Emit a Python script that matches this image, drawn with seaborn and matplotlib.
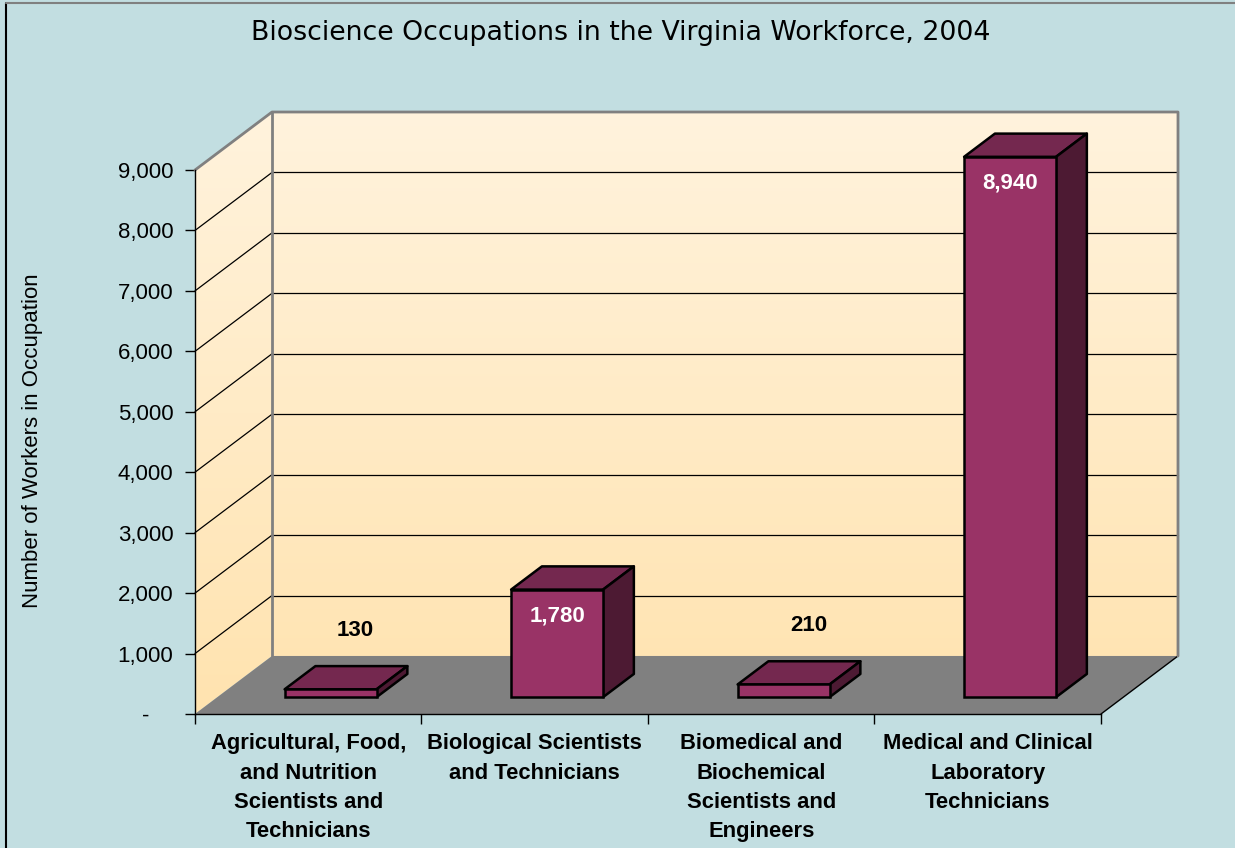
import numpy as np
import pandas as pd
import matplotlib
matplotlib.use("Agg")
import matplotlib.pyplot as plt
import seaborn as sns
from matplotlib.patches import Polygon
from matplotlib.lines import Line2D
from matplotlib.colors import LinearSegmentedColormap

# ---------------- data ----------------
categories = [
    "Agricultural, Food,\nand Nutrition\nScientists and\nTechnicians",
    "Biological Scientists\nand Technicians",
    "Biomedical and\nBiochemical\nScientists and\nEngineers",
    "Medical and Clinical\nLaboratory\nTechnicians",
]
workers = [130, 1780, 210, 8940]
value_labels = ["130", "1,780", "210", "8,940"]
y_ticks = [0, 1000, 2000, 3000, 4000, 5000, 6000, 7000, 8000, 9000]
y_tick_labels = ["-    ", "1,000", "2,000", "3,000", "4,000", "5,000",
                 "6,000", "7,000", "8,000", "9,000"]
title = "Bioscience Occupations in the Virginia Workforce, 2004"
y_label = "Number of Workers in Occupation"

# ---------------- style ----------------
BG = "#C2DEE1"
FRONT = "#993366"
TOP = "#74284F"
SIDE = "#4D1A33"
FLOOR = "#808080"
WALL_TOP = "#FFF3DD"
WALL_BOT = "#FFE3AF"

sns.set_theme(style="white")
plt.rcParams["font.family"] = ["Liberation Sans", "DejaVu Sans"]
plt.rcParams["text.color"] = "black"
plt.rcParams["xtick.color"] = "black"
plt.rcParams["ytick.color"] = "black"

W, H = 1235, 848
fig = plt.figure(figsize=(W / 100, H / 100), dpi=100, facecolor=BG)
L, R, B, T = 195, 1178, 714, 112
ax = fig.add_axes([L / W, 1 - B / H, (R - L) / W, (B - T) / H])
ax.set_facecolor("none")

DX, DY = 0.34, 960          # depth vector (front -> back) in data units
D0, D1 = 0.29, 0.69         # bar depth span as fraction of the depth
YMAX = 9000
X0, X1 = -0.5, 3.5

df = pd.DataFrame({"cat": categories, "workers": workers})
sns.barplot(data=df, x="cat", y="workers", color=FRONT, saturation=1,
            width=0.406, edgecolor="black", linewidth=1.8, ax=ax, zorder=6)

bars = list(ax.patches)
ax.set_xlim(X0, X1 + DX)
ax.set_ylim(0, YMAX + DY)

# walls gradient (left + back) clipped to wall shape
cmap = LinearSegmentedColormap.from_list("wall", [WALL_BOT, WALL_TOP])
grad = np.linspace(0, 1, 256).reshape(-1, 1)
im = ax.imshow(grad, extent=(X0, X1 + DX, 0, YMAX + DY), origin="lower",
               aspect="auto", cmap=cmap, zorder=0, interpolation="bicubic")
wall = Polygon([(X0, 0), (X0, YMAX), (X0 + DX, YMAX + DY), (X1 + DX, YMAX + DY),
                (X1 + DX, DY), (X0 + DX, DY)], closed=True, facecolor="none",
               edgecolor="none", transform=ax.transData)
ax.add_patch(wall)
im.set_clip_path(wall)
ax.set_xlim(X0, X1 + DX)
ax.set_ylim(0, YMAX + DY)

# floor
ax.add_patch(Polygon([(X0, 0), (X1, 0), (X1 + DX, DY), (X0 + DX, DY)],
                     closed=True, facecolor=FLOOR, edgecolor="none", zorder=1,
                     clip_on=False))
ax.plot([X1, X1 + DX], [0, DY], color="black", lw=1, zorder=2, clip_on=False)

# gridlines
for v in y_ticks[1:-1]:
    ax.plot([X0 + DX, X1 + DX], [v + DY, v + DY], color="black", lw=0.9,
            zorder=2, clip_on=False)
    ax.plot([X0, X0 + DX], [v, v + DY], color="black", lw=0.9, zorder=2,
            clip_on=False)
# wall borders (grey)
ax.plot([X0, X0 + DX, X1 + DX, X1 + DX], [YMAX, YMAX + DY, YMAX + DY, DY],
        color="#808080", lw=2, zorder=3, clip_on=False)
ax.plot([X0 + DX, X0 + DX], [DY, YMAX + DY], color="#808080", lw=2, zorder=3,
        clip_on=False)

# 3-D bars
for i, p in enumerate(bars):
    x, w, h = p.get_x(), p.get_width(), p.get_height()
    x = x + D0 * DX
    y = D0 * DY
    p.set_x(x)
    p.set_y(y)
    bdx, bdy = (D1 - D0) * DX, (D1 - D0) * DY
    top = Polygon([(x, y + h), (x + w, y + h), (x + w + bdx, y + h + bdy),
                   (x + bdx, y + h + bdy)], closed=True, facecolor=TOP,
                  edgecolor="black", lw=1.8, zorder=5, joinstyle="round")
    side = Polygon([(x + w, y), (x + w, y + h), (x + w + bdx, y + h + bdy),
                    (x + w + bdx, y + bdy)], closed=True, facecolor=SIDE,
                   edgecolor="black", lw=1.8, zorder=5, joinstyle="round")
    ax.add_patch(top)
    ax.add_patch(side)
    xc = x + w / 2
    if workers[i] < 1000:
        ax.text(xc + 0.11, y + h + 980, value_labels[i], ha="center",
                va="center", fontsize=16, fontweight="bold", color="black",
                zorder=7)
    else:
        ax.text(xc, y + h - 430, value_labels[i], ha="center", va="center",
                fontsize=16, fontweight="bold", color="white", zorder=7)

# spines & ticks
for s in ["top", "right"]:
    ax.spines[s].set_visible(False)
ax.spines["left"].set_bounds(0, YMAX)
ax.spines["bottom"].set_bounds(X0, X1)
for s in ["left", "bottom"]:
    ax.spines[s].set_color("black")
    ax.spines[s].set_linewidth(1.0)
    ax.spines[s].set_zorder(4)

ax.set_yticks(y_ticks)
ax.set_yticklabels(y_tick_labels, fontsize=16, color="black")
ax.tick_params(axis="y", which="major", length=7.5, width=1, color="black",
               direction="out", pad=8, left=True, labelcolor="black")
ax.yaxis.get_major_ticks()[-1].tick1line.set_color("#808080")

ax.set_xticks([X0, 0.5, 1.5, 2.5, X1])
ax.set_xticklabels([])
ax.set_xticks([0, 1, 2, 3], minor=True)
ax.set_xticklabels(categories, minor=True, fontsize=15.8, fontweight="bold",
                   linespacing=1.52, color="black")
ax.tick_params(axis="x", which="major", length=7.5, width=1, color="black",
               direction="out", bottom=True)
ax.tick_params(axis="x", which="minor", length=0, pad=14, bottom=True)
ax.set_xlabel("")
ax.set_ylabel("")

fig.text(33 / W, 1 - 441 / H, y_label, rotation=90, ha="center", va="center",
         fontsize=16, color="black")
fig.text(621 / W, 1 - 33 / H, title, ha="center", va="center", fontsize=19.3,
         color="black", family=["DejaVu Sans"])

# figure border
fig.add_artist(Line2D([6 / W, 6 / W], [0, 1 - 3 / H], transform=fig.transFigure,
                      color="black", lw=1.5))
fig.add_artist(Line2D([6 / W, 1], [1 - 3 / H, 1 - 3 / H],
                      transform=fig.transFigure, color="#808080", lw=1.5))

fig.savefig("out.png", dpi=100, facecolor=BG)
